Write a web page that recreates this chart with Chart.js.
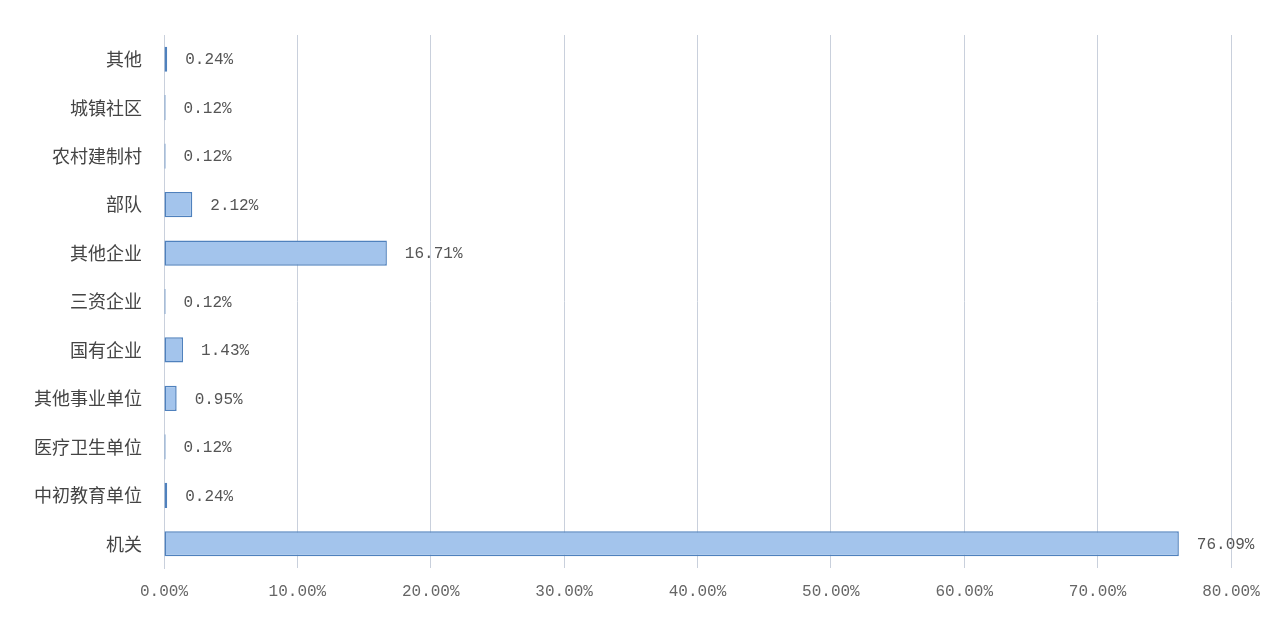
<!DOCTYPE html>
<html><head><meta charset="utf-8">
<script src="https://cdn.jsdelivr.net/npm/chart.js@4/dist/chart.umd.min.js"></script>
<style>html,body{margin:0;background:#fff}#w{width:1280px;height:630px}</style>
</head><body><div id="w"><canvas id="c"></canvas></div>
<script>
const categories = ["其他","城镇社区","农村建制村","部队","其他企业","三资企业","国有企业","其他事业单位","医疗卫生单位","中初教育单位","机关"];
const values = [0.24,0.12,0.12,2.12,16.71,0.12,1.43,0.95,0.12,0.24,76.09];
const labelPlugin = {
  id:'vl',
  afterDatasetsDraw(chart){
    const ctx = chart.ctx, meta = chart.getDatasetMeta(0);
    ctx.save();
    ctx.font = '16px "Liberation Mono", "Noto Sans CJK SC"';
    ctx.fillStyle = '#555';
    ctx.textBaseline = 'middle';
    meta.data.forEach((b,i)=>{
      ctx.fillText(values[i].toFixed(2)+'%', b.x + 18, b.y+1);
    });
    ctx.restore();
  }
};
new Chart(document.getElementById('c'),{
  type:'bar',
  data:{labels:categories,datasets:[{data:values,backgroundColor:'#a3c4ec',borderColor:'#4f81bd',borderWidth:1.5,borderSkipped:false,barPercentage:0.52,categoryPercentage:1}]},
  options:{
    indexAxis:'y',responsive:true,maintainAspectRatio:false,animation:false,
    layout:{padding:{top:35,right:49,left:0,bottom:0}},
    plugins:{legend:{display:false},tooltip:{enabled:false}},
    scales:{
      x:{min:0,max:80,ticks:{stepSize:10,color:'#666',padding:14,font:{size:16,family:'"Liberation Mono", "Noto Sans CJK SC"'},callback:v=>v.toFixed(2)+'%'},
        grid:{color:'#c9d0dc',drawTicks:false},border:{display:false},
        afterFit(s){s.height=62;}},
      y:{ticks:{color:'#444',padding:14,font:{size:18,family:'"Noto Sans CJK SC"'}},
        grid:{display:false},border:{color:'#c9d0dc'},
        afterFit(s){s.width=164;}}
    }
  },
  plugins:[labelPlugin]
});
</script></body></html>
